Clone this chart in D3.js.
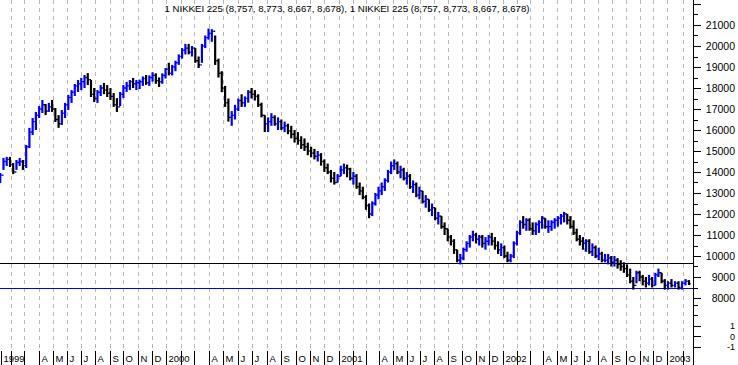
<!DOCTYPE html>
<html>
<head>
<meta charset="utf-8">
<script src="https://cdn.jsdelivr.net/npm/d3@7"></script>
<style>
  html, body { margin: 0; padding: 0; background: #fff; }
  svg { display: block; font-family: "Liberation Sans", Arial, sans-serif; }
</style>
</head>
<body>
<svg id="chart" width="738" height="365"></svg>
<script>
// weekly bars, Fridays from 8 Jan 1999 to 14 Feb 2003
const firstWeek = new Date(1999, 0, 8);

const weekHigh = [
  // 1999
  13950, 14670, 14720, 14720, 14430, 14570, 14670, 14570, 15290, 16100,
  16570, 16860, 17140, 17430, 17240, 17290, 17430, 17050, 16710, 16950,
  17290, 17670, 17900, 18190, 18380, 18480, 18620, 18710, 18380, 18000,
  17900, 18140, 18240, 18140, 18000, 17760, 17520, 17810, 18140, 18290,
  18380, 18480, 18380, 18400, 18550, 18620, 18600, 18750, 18700, 18500, 18700, 18950,
  // 2000
  19200, 19100, 19300, 19600, 19900, 20100, 20100, 20000, 19900, 19500,
  20100, 20500, 20830, 20800, 20500, 19400, 18800, 18100, 17500, 16900,
  17200, 17500, 17700, 17600, 17900, 18000, 17900, 17700, 17300, 16700,
  16600, 16800, 16700, 16600, 16500, 16400, 16300, 16200, 16000, 15900,
  15700, 15600, 15400, 15200, 15100, 15000, 14900, 14600, 14400, 14100, 14000, 13900,
  // 2001
  14300, 14400, 14350, 14200, 14000, 13900, 13500, 13300, 12900, 12500,
  12600, 13000, 13300, 13500, 13700, 14100, 14500, 14600, 14500, 14300,
  14200, 14000, 13900, 13600, 13500, 13300, 13100, 12900, 12700, 12500,
  12300, 12100, 11900, 11600, 11300, 11000, 10800, 10300, 10100, 10400,
  10700, 11000, 11200, 11100, 11000, 11000, 10900, 11000, 11100, 10900, 10700, 10600,
  // 2002
  10500, 10200, 10100, 10700, 11200, 11700, 11900, 11800, 11800, 11600,
  11600, 11700, 11900, 11800, 11700, 11700, 11800, 11900, 12000, 12100,
  12000, 11900, 11700, 11300, 11000, 10900, 10800, 10800, 10600, 10500,
  10400, 10200, 10100, 10100, 10000, 10000, 9900, 9800, 9700, 9600,
  9400, 9000, 9300, 9300, 9100, 9000, 9100, 9000, 9200, 9400, 9200, 8900,
  // 2003
  8800, 8900, 8800, 8800, 8800, 8900, 8850
];

const weekLow = [
  // 1999
  13480, 14100, 14290, 14240, 13900, 14100, 14290, 14100, 14190, 15140,
  15760, 16000, 16570, 16810, 16710, 16860, 16860, 16380, 16100, 16240,
  16570, 16950, 17290, 17620, 17810, 17900, 18000, 18140, 17570, 17330,
  17290, 17620, 17710, 17570, 17430, 17100, 16860, 17140, 17520, 17810,
  17900, 18000, 17900, 17950, 18100, 18150, 18100, 18300, 18200, 18050, 18200, 18450,
  // 2000
  18600, 18600, 18800, 19100, 19400, 19600, 19600, 19500, 19200, 18950,
  19200, 19900, 20300, 20200, 19100, 18500, 17800, 17100, 16400, 16200,
  16500, 16900, 17100, 17100, 17300, 17500, 17400, 17100, 16600, 15900,
  15900, 16200, 16200, 16000, 16000, 15900, 15800, 15600, 15400, 15300,
  15100, 15000, 14800, 14700, 14600, 14500, 14300, 14000, 13900, 13500, 13400, 13500,
  // 2001
  13800, 13900, 13750, 13600, 13400, 13200, 12900, 12700, 12200, 11800,
  11900, 12400, 12700, 12900, 13100, 13500, 13900, 14100, 13900, 13700,
  13600, 13400, 13200, 13000, 12800, 12700, 12500, 12300, 12100, 11900,
  11700, 11500, 11300, 11000, 10700, 10500, 10100, 9700, 9600, 9800,
  10200, 10400, 10700, 10600, 10500, 10400, 10300, 10500, 10500, 10300, 10100, 10000,
  // 2002
  9900, 9700, 9700, 9900, 10500, 11000, 11300, 11200, 11200, 11000,
  11000, 11100, 11300, 11300, 11100, 11200, 11300, 11400, 11500, 11600,
  11500, 11300, 11000, 10700, 10500, 10300, 10200, 10100, 10000, 9900,
  9800, 9700, 9700, 9600, 9500, 9500, 9400, 9300, 9200, 9000,
  8700, 8400, 8700, 8800, 8600, 8500, 8600, 8500, 8600, 9000, 8700, 8400,
  // 2003
  8400, 8500, 8500, 8400, 8400, 8600, 8620
];

const weekClose = [
  // 1999
  13850, 14500, 14600, 14350, 14000, 14450, 14500, 14300, 15200, 15900,
  16400, 16700, 17000, 17200, 16900, 17100, 17000, 16500, 16300, 16800,
  17200, 17550, 17800, 18100, 18200, 18300, 18500, 18400, 17700, 17500,
  17800, 18000, 17900, 17750, 17600, 17200, 17100, 17700, 18000, 18100,
  18300, 18200, 18250, 18300, 18450, 18250, 18500, 18600, 18350, 18300, 18600, 18900,
  // 2000
  18700, 19000, 19200, 19500, 19800, 19900, 19700, 19900, 19300, 19100,
  20000, 20400, 20600, 20700, 19300, 18700, 18000, 17300, 16600, 16700,
  17000, 17400, 17300, 17500, 17800, 17700, 17600, 17200, 16700, 16300,
  16400, 16600, 16300, 16400, 16100, 16200, 15950, 15800, 15600, 15500,
  15300, 15200, 15000, 14900, 14750, 14800, 14500, 14200, 14000, 13700, 13500, 13800,
  // 2001
  14100, 14200, 14150, 13700, 13800, 13300, 13100, 12800, 12400, 12000,
  12500, 12900, 13100, 13300, 13600, 14000, 14300, 14400, 14000, 14100,
  13700, 13800, 13300, 13400, 12900, 13100, 12600, 12700, 12200, 12300,
  11800, 11900, 11400, 11300, 10900, 10700, 10300, 9800, 9900, 10300,
  10600, 10900, 11000, 10800, 10900, 10600, 10700, 10900, 10700, 10500, 10300, 10400,
  // 2002
  10000, 9800, 10000, 10600, 11100, 11600, 11500, 11700, 11300, 11200,
  11500, 11600, 11800, 11400, 11400, 11600, 11700, 11800, 11900, 12000,
  11700, 11400, 11100, 10800, 10700, 10600, 10700, 10200, 10400, 10000,
  10100, 9800, 9800, 9900, 9700, 9800, 9600, 9500, 9400, 9100,
  8800, 8600, 9200, 9000, 8800, 8700, 8900, 8600, 9100, 9200, 8800, 8600,
  // 2003
  8700, 8600, 8700, 8500, 8700, 8800, 8680
];

const levelLines = [
  { value: 9650, color: "#000" },
  { value: 8460, color: "#0000ff" }
];

const lastBar = [8757, 8773, 8667, 8678];
const monthLetters = ["", "", "", "A", "M", "J", "J", "A", "S", "O", "N", "D"];
const subTicks = [-1, 0, 1, 2, 3];
const subLabels = [-1, 0, 1];

const width = 738, height = 365;
const plotRight = 693, plotBottom = 350;

const svg = d3.select("#chart");
svg.append("rect").attr("width", width).attr("height", height).attr("fill", "#fff");

// x by calendar, one segment per year so the year marks fall where they do on the chart
const x = d3.scaleTime()
  .domain([new Date(1999, 0, 1), new Date(2000, 0, 1), new Date(2001, 0, 1),
           new Date(2002, 0, 1), new Date(2003, 0, 1), new Date(2003, 1, 18)])
  .range([-3, 166, 339, 503, 667, 691]);

const y = d3.scaleLinear().domain([8000, 21000]).range([298, 25]);
// empty lower pane
const ySub = d3.scaleLinear().domain([-1, 1]).range([346.5, 325.5]);

// monthly dashed grid
const months = d3.timeMonth.range(new Date(1999, 1, 1), new Date(2003, 2, 1));
svg.append("g")
  .selectAll("line")
  .data(months)
  .join("line")
  .attr("x1", d => Math.round(x(d)) + 0.5)
  .attr("x2", d => Math.round(x(d)) + 0.5)
  .attr("y1", 0)
  .attr("y2", plotBottom)
  .attr("stroke", "#b8b8b8")
  .attr("stroke-dasharray", "4,4");

svg.append("clipPath").attr("id", "plot-clip")
  .append("rect").attr("x", 0).attr("y", 0).attr("width", plotRight).attr("height", plotBottom);

const plot = svg.append("g").attr("clip-path", "url(#plot-clip)");

// support / resistance lines
plot.selectAll(".level")
  .data(levelLines)
  .join("line")
  .attr("class", "level")
  .attr("x1", 0)
  .attr("x2", plotRight)
  .attr("y1", d => Math.round(y(d.value)) + 0.5)
  .attr("y2", d => Math.round(y(d.value)) + 0.5)
  .attr("stroke", d => d.color);

// OHLC bars
const bars = weekHigh.map((hi, i) => ({
  date: d3.timeDay.offset(firstWeek, 7 * i),
  high: hi,
  low: weekLow[i],
  open: i === 0 ? 13500 : weekClose[i - 1],
  close: weekClose[i]
}));

const barG = plot.append("g")
  .selectAll("g")
  .data(bars)
  .join("g")
  .attr("stroke", d => (d.close >= d.open ? "#0000ff" : "#000"));

barG.append("line")
  .attr("x1", d => x(d.date))
  .attr("x2", d => x(d.date))
  .attr("y1", d => y(d.high))
  .attr("y2", d => y(d.low))
  .attr("stroke-width", 2.2);

barG.append("line")
  .attr("x1", d => x(d.date) - 1.6)
  .attr("x2", d => x(d.date))
  .attr("y1", d => y(d.open))
  .attr("y2", d => y(d.open))
  .attr("stroke-width", 1.4);

barG.append("line")
  .attr("x1", d => x(d.date))
  .attr("x2", d => x(d.date) + 1.6)
  .attr("y1", d => y(d.close))
  .attr("y2", d => y(d.close))
  .attr("stroke-width", 1.4);

// right axis
svg.append("line")
  .attr("x1", plotRight + 0.5).attr("x2", plotRight + 0.5)
  .attr("y1", 0).attr("y2", height)
  .attr("stroke", "#000");

const mainTicks = d3.range(8000, 22001, 500);
const axisG = svg.append("g").attr("transform", `translate(${plotRight},0)`);

axisG.selectAll(".tick")
  .data(mainTicks)
  .join("line")
  .attr("x1", 0)
  .attr("x2", d => (d % 1000 === 0 ? 8 : 5))
  .attr("y1", d => Math.round(y(d)) + 0.5)
  .attr("y2", d => Math.round(y(d)) + 0.5)
  .attr("stroke", "#000");

axisG.selectAll(".lbl")
  .data(mainTicks.filter(d => d % 1000 === 0 && d <= 21000))
  .join("text")
  .attr("x", 42)
  .attr("y", d => y(d) + 4)
  .attr("text-anchor", "end")
  .attr("font-size", 10.5)
  .text(d => d);

axisG.selectAll(".subtick")
  .data(subTicks)
  .join("line")
  .attr("x1", 0)
  .attr("x2", d => (subLabels.includes(d) ? 8 : 5))
  .attr("y1", d => Math.round(ySub(d)) + 0.5)
  .attr("y2", d => Math.round(ySub(d)) + 0.5)
  .attr("stroke", "#000");

axisG.selectAll(".sublbl")
  .data(subLabels)
  .join("text")
  .attr("x", 42)
  .attr("y", d => ySub(d) + 3.5)
  .attr("text-anchor", "end")
  .attr("font-size", 9)
  .text(d => d);

// month strip along the bottom
const allMonths = d3.timeMonth.range(new Date(1999, 0, 1), new Date(2003, 2, 1));
const strip = svg.append("g");

strip.selectAll("line")
  .data(allMonths)
  .join("line")
  .attr("x1", d => Math.max(1, Math.round(x(d))) + 0.5)
  .attr("x2", d => Math.max(1, Math.round(x(d))) + 0.5)
  .attr("y1", plotBottom + 1)
  .attr("y2", height)
  .attr("stroke", "#000");

strip.selectAll("text")
  .data(allMonths.filter(d => d.getMonth() === 0 || monthLetters[d.getMonth()]))
  .join("text")
  .attr("x", d => Math.max(1, Math.round(x(d))) + 2.5)
  .attr("y", 362)
  .attr("font-size", 9.5)
  .text(d => (d.getMonth() === 0 ? d.getFullYear() : monthLetters[d.getMonth()]));

// title
const fmt = d3.format(",");
const part = `1 NIKKEI 225 (${lastBar.map(fmt).join(", ")})`;
svg.append("text")
  .attr("x", 347)
  .attr("y", 12)
  .attr("text-anchor", "middle")
  .attr("font-size", 9.6)
  .attr("textLength", 365)
  .attr("lengthAdjust", "spacingAndGlyphs")
  .text(`${part}, ${part}`);
</script>
</body>
</html>
